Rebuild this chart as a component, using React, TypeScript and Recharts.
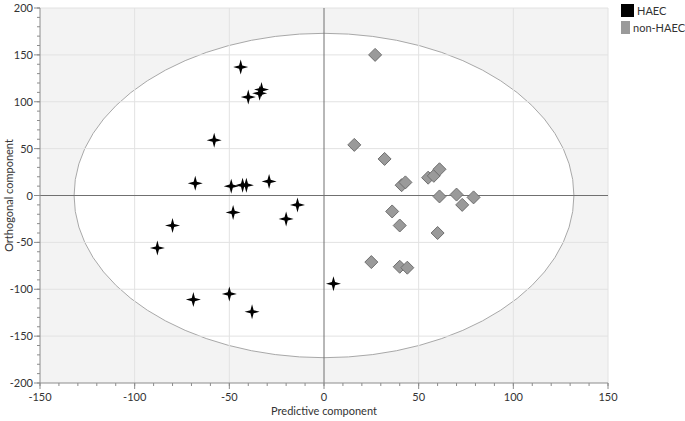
import React from 'react';
import {
    ScatterChart,
    Scatter,
    XAxis,
    YAxis,
    ReferenceArea,
    ReferenceLine,
    Legend,
} from 'recharts';

type Pt = { x: number; y: number };

const haec: Pt[] = [
    { x: -44, y: 137 },
    { x: -33, y: 113 },
    { x: -34, y: 109 },
    { x: -40, y: 105 },
    { x: -58, y: 59 },
    { x: -68, y: 13 },
    { x: -49, y: 10 },
    { x: -43, y: 11 },
    { x: -41, y: 11 },
    { x: -29, y: 15 },
    { x: -14, y: -10 },
    { x: -20, y: -25 },
    { x: -48, y: -18 },
    { x: -80, y: -32 },
    { x: -88, y: -56 },
    { x: 5, y: -94 },
    { x: -69, y: -111 },
    { x: -50, y: -105 },
    { x: -38, y: -124 },
];

const nonHaec: Pt[] = [
    { x: 27, y: 150 },
    { x: 16, y: 54 },
    { x: 32, y: 39 },
    { x: 41, y: 11 },
    { x: 43, y: 14 },
    { x: 55, y: 19 },
    { x: 58, y: 21 },
    { x: 61, y: 28 },
    { x: 61, y: -1 },
    { x: 70, y: 1 },
    { x: 79, y: -2 },
    { x: 73, y: -10 },
    { x: 36, y: -17 },
    { x: 40, y: -32 },
    { x: 60, y: -40 },
    { x: 25, y: -71 },
    { x: 40, y: -76 },
    { x: 44, y: -77 },
];

const xTicks = [-150, -140, -130, -120, -110, -100, -90, -80, -70, -60, -50, -40, -30, -20, -10, 0, 10, 20, 30, 40, 50, 60, 70, 80, 90, 100, 110, 120, 130, 140, 150];
const yTicks = [-200, -190, -180, -170, -160, -150, -140, -130, -120, -110, -100, -90, -80, -70, -60, -50, -40, -30, -20, -10, 0, 10, 20, 30, 40, 50, 60, 70, 80, 90, 100, 110, 120, 130, 140, 150, 160, 170, 180, 190, 200];
const xGrid = [-100, -50, 50, 100];
const yGrid = [-150, -100, -50, 50, 100, 150];

// Hotelling T2 ellipse half-axes
const ellipseX = 132;
const ellipseY = 173;

const FONT = 'Lato, "Open Sans", sans-serif';
const AXIS = '#8c8c8c';

const Star = (props: any) => {
    const { cx, cy } = props;
    const r = 7.5;
    const i = 1.6;
    const d = `M${cx},${cy - r} L${cx + i},${cy - i} L${cx + r},${cy} L${cx + i},${cy + i} L${cx},${cy + r} L${cx - i},${cy + i} L${cx - r},${cy} L${cx - i},${cy - i} Z`;
    return <path d={d} fill="#000" />;
};

const Diamond = (props: any) => {
    const { cx, cy } = props;
    const r = 6.5;
    const d = `M${cx},${cy - r} L${cx + r},${cy} L${cx},${cy + r} L${cx - r},${cy} Z`;
    return <path d={d} fill="#9a9a9a" stroke="#6f6f6f" strokeWidth={1} />;
};

const XTick = (props: any) => {
    const { x, y, payload } = props;
    const major = payload.value % 50 === 0;
    return (
        <g>
            {major && <line x1={x} x2={x} y1={y - 5} y2={y + 1} stroke={AXIS} />}
            {major && (
                <text x={x} y={y + 13} textAnchor="middle" fontSize={11} fontFamily={FONT} fill="#333">
                    {payload.value}
                </text>
            )}
        </g>
    );
};

const YTick = (props: any) => {
    const { x, y, payload } = props;
    const major = payload.value % 50 === 0;
    return (
        <g>
            {major && <line x1={x - 1} x2={x + 5} y1={y} y2={y} stroke={AXIS} />}
            {major && (
                <text x={x - 2} y={y + 4} textAnchor="end" fontSize={11} fontFamily={FONT} fill="#333">
                    {payload.value}
                </text>
            )}
        </g>
    );
};

const EllipseShape = (props: any) => {
    const { x, y, width, height } = props;
    return (
        <ellipse
            cx={x + width / 2}
            cy={y + height / 2}
            rx={width / 2}
            ry={height / 2}
            fill="#fff"
            stroke="#a8a8a8"
            strokeWidth={1}
        />
    );
};

const LegendBox = () => (
    <div style={{ fontFamily: FONT, fontSize: 11, color: '#333', whiteSpace: 'nowrap' }}>
        <div style={{ display: 'flex', alignItems: 'center', height: 17 }}>
            <span style={{ width: 13, height: 13, background: '#000', marginRight: 3 }} />
            HAEC
        </div>
        <div style={{ display: 'flex', alignItems: 'center', height: 17 }}>
            <span style={{ width: 13, height: 13, background: '#9a9a9a', marginRight: 3 }} />
            non-HAEC
        </div>
    </div>
);

export default function App() {
    return (
        <div style={{ position: 'absolute', left: 0, top: 0, background: '#fff' }}>
            <ScatterChart width={685} height={421} margin={{ top: 8, right: 77, bottom: 0, left: 0 }}>
                <XAxis
                    type="number"
                    dataKey="x"
                    domain={[-150, 150]}
                    ticks={xTicks}
                    interval={0}
                    tick={<XTick />}
                    tickSize={3}
                    stroke={AXIS}
                    height={38}
                    allowDataOverflow
                    label={{ value: 'Predictive component', position: 'insideBottom', offset: 6, fontSize: 11, fontFamily: FONT, fill: '#333' }}
                />
                <YAxis
                    type="number"
                    dataKey="y"
                    domain={[-200, 200]}
                    ticks={yTicks}
                    interval={0}
                    tick={<YTick />}
                    tickSize={3}
                    stroke={AXIS}
                    width={40}
                    allowDataOverflow
                    label={{ value: 'Orthogonal component', angle: -90, position: 'insideLeft', offset: 9, fontSize: 11, fontFamily: FONT, fill: '#333', style: { textAnchor: 'middle' } }}
                />
                <ReferenceArea x1={-150} x2={150} y1={-200} y2={200} fill="#f3f3f3" fillOpacity={1} stroke="none" />
                <ReferenceArea x1={-ellipseX} x2={ellipseX} y1={-ellipseY} y2={ellipseY} shape={<EllipseShape />} />
                {xGrid.map((v) => (
                    <ReferenceLine key={`gx${v}`} x={v} stroke="#e2e2e2" />
                ))}
                {yGrid.map((v) => (
                    <ReferenceLine key={`gy${v}`} y={v} stroke="#e2e2e2" />
                ))}
                <ReferenceLine x={150} stroke="#e2e2e2" />
                <ReferenceLine y={200} stroke="#e2e2e2" />
                <ReferenceLine x={0} stroke="#707070" />
                <ReferenceLine y={0} stroke="#707070" />
                <Scatter name="HAEC" data={haec} shape={<Star />} isAnimationActive={false} />
                <Scatter name="non-HAEC" data={nonHaec} shape={<Diamond />} isAnimationActive={false} />
                <Legend
                    layout="vertical"
                    align="center"
                    verticalAlign="middle"
                    content={<LegendBox />}
                    wrapperStyle={{ top: 2, left: 621, width: 64, height: 36 }}
                />
            </ScatterChart>
        </div>
    );
}
